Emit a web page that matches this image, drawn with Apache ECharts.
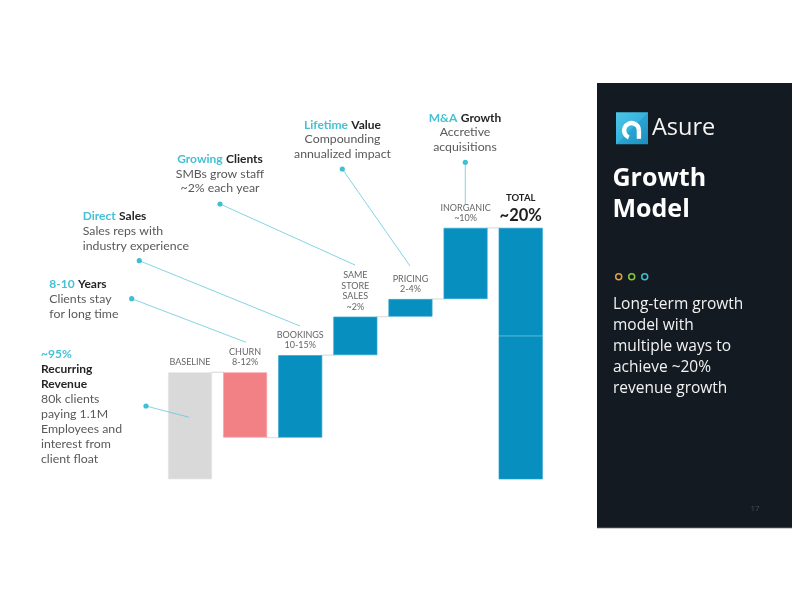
<!DOCTYPE html>
<html>
<head>
<meta charset="utf-8">
<script src="https://cdn.jsdelivr.net/npm/echarts@6/dist/echarts.min.js"></script>
<style>html,body{margin:0;padding:0;background:#fff;}#c{width:792px;height:612px;}</style>
</head>
<body>
<div id="c"></div>
<script>
// ---- data ----
const categories = ['BASELINE', 'CHURN', 'BOOKINGS', 'SAME STORE SALES', 'PRICING', 'INORGANIC', 'TOTAL'];
const barLabels = ['BASELINE', 'CHURN\n8-12%', 'BOOKINGS\n10-15%', 'SAME\nSTORE\nSALES\n~2%', 'PRICING\n2-4%', 'INORGANIC\n~10%'];
const changes = [100, -61, 77, 36, 16.5, 66.5];   // baseline + step changes
const totalSegments = [134, 101];                  // total bar (two stacked parts)
const totalLabelTop = 'TOTAL';
const totalLabelValue = '~20%';

// ---- build waterfall ----
const baseData = [], valueData = [], topData = [], connectors = [];
let cum = 0;
changes.forEach((c, i) => {
  const next = cum + c;
  baseData.push(Math.min(cum, next));
  valueData.push(Math.abs(c));
  topData.push('-');
  cum = next;
  connectors.push([i, cum]);
});
baseData.push(0);
valueData.push(totalSegments[0]);
topData.push(totalSegments[1]);

const BLUE = '#078fbf', PINK = '#f28185', GREY = '#d9d9d9';
const colorFor = (i) => i === 0 ? GREY : (changes[i] < 0 ? PINK : BLUE);
const borderFor = (i) => i === 0 ? '#e4e4e4' : (changes[i] < 0 ? '#f6a5a7' : '#35a6cf');

const chart = echarts.init(document.getElementById('c'), null, {renderer: 'canvas'});

const CY = '#45c0d4', HEAD = '#262626', BODY = '#595959';
const F = 'Lato, "Open Sans", sans-serif';
function rich(lh) {
  return {
    c: {fontFamily: F, fontSize: 12, fontWeight: 'bold', fill: CY, lineHeight: lh},
    h: {fontFamily: F, fontSize: 12, fontWeight: 'bold', fill: HEAD, lineHeight: lh},
    b: {fontFamily: F, fontSize: 12.3, fill: BODY, lineHeight: lh}
  };
}
function block(x, yc, lh, align, text) {
  return {type: 'text', z: 10, style: {x: x, y: yc - lh / 2, text: text, align: align, verticalAlign: 'top', rich: rich(lh)}};
}
const leaders = [
  [[220, 204], [355, 265]],
  [[139.3, 260.7], [300, 326]],
  [[131.7, 298.7], [246, 342.3]],
  [[146, 406], [189.3, 417.3]],
  [[342.3, 169], [410, 266]],
  [[465.3, 162.3], [465.3, 204.3]]
];
const graphics = [];
leaders.forEach(l => {
  graphics.push({type: 'line', z: 5, shape: {x1: l[0][0], y1: l[0][1], x2: l[1][0], y2: l[1][1]}, style: {stroke: '#62cadb', lineWidth: 0.8}});
  graphics.push({type: 'circle', z: 6, shape: {cx: l[0][0], cy: l[0][1], r: 2.6}, style: {fill: '#3fbfd3'}});
});
graphics.push(
  block(220, 159, 14.7, 'center', '{c|Growing} {h|Clients}\n{b|SMBs grow staff}\n{b|~2% each year}'),
  block(82.7, 215.7, 15, 'left', '{c|Direct} {h|Sales}\n{b|Sales reps with}\n{b|industry experience}'),
  block(49.3, 284, 14.8, 'left', '{c|8-10} {h|Years}\n{b|Clients stay}\n{b|for long time}'),
  block(41, 353.7, 15.05, 'left', '{c|~95%}\n{h|Recurring}\n{h|Revenue}\n{b|80k clients}\n{b|paying 1.1M}\n{b|Employees and}\n{b|interest from}\n{b|client float}'),
  block(342.5, 124.7, 14.5, 'center', '{c|Lifetime} {h|Value}\n{b|Compounding}\n{b|annualized impact}'),
  block(465, 118, 14.5, 'center', '{c|M&A} {h|Growth}\n{b|Accretive}\n{b|acquisitions}')
);
// right panel
graphics.push(
  {type: 'rect', z: 1, shape: {x: 597, y: 83, width: 195, height: 445}, style: {fill: '#131a21'}},
  {type: 'rect', z: 2, shape: {x: 616, y: 112.3, width: 32, height: 32}, style: {fill: new echarts.graphic.LinearGradient(0, 0, 1, 1, [{offset: 0, color: '#4cc7e6'}, {offset: 0.5, color: '#36b3dc'}, {offset: 0.5, color: '#2aa5d2'}, {offset: 1, color: '#1b8fc0'}])}},
  {type: 'arc', z: 3, shape: {cx: 631.5, cy: 130.5, r: 7.4, startAngle: Math.PI * 0.62, endAngle: Math.PI * 2, clockwise: true}, style: {stroke: '#ffffff', lineWidth: 4.4, fill: null}},
  {type: 'line', z: 3, shape: {x1: 638.9, y1: 130.3, x2: 638.9, y2: 138.8}, style: {stroke: '#ffffff', lineWidth: 4.4}},
  {type: 'text', z: 3, style: {x: 652, y: 128.5, text: 'Asure', fill: '#f4f4f4', font: '23.5px "Open Sans", sans-serif', verticalAlign: 'middle'}},
  {type: 'text', z: 3, style: {x: 612.5, y: 163.5, text: 'Growth\nModel', fill: '#ffffff', font: 'bold 25px "Open Sans", sans-serif', lineHeight: 31, verticalAlign: 'top'}},
  {type: 'circle', z: 3, shape: {cx: 618.7, cy: 276.7, r: 3}, style: {fill: null, stroke: '#e5a23e', lineWidth: 1.5}},
  {type: 'circle', z: 3, shape: {cx: 631.7, cy: 276.7, r: 3}, style: {fill: null, stroke: '#8cc63f', lineWidth: 1.5}},
  {type: 'circle', z: 3, shape: {cx: 644.7, cy: 276.7, r: 3}, style: {fill: null, stroke: '#3dc1d3', lineWidth: 1.5}},
  {type: 'text', z: 3, style: {x: 613, y: 294.6, text: 'Long-term growth\nmodel with\nmultiple ways to\nachieve ~20%\nrevenue growth', fill: '#f2f2f2', font: '15.5px "Open Sans", sans-serif', lineHeight: 20.8, verticalAlign: 'top'}},
  {type: 'text', z: 3, style: {x: 755, y: 509, text: '17', fill: '#46505a', font: '8px "Open Sans", sans-serif', align: 'center', verticalAlign: 'middle'}},
  {type: 'rect', z: 2, shape: {x: 597, y: 527, width: 195, height: 1.2}, style: {fill: '#3a4047'}}
);

const labelStyle = {show: true, position: 'top', distance: 4.5, color: '#666', fontFamily: F, fontSize: 9, lineHeight: 10.5, align: 'center'};

chart.setOption({
  animation: false,
  backgroundColor: '#ffffff',
  grid: {left: 162.44, width: 385.8, top: 158.3, height: 321},
  xAxis: {type: 'category', data: categories, show: false},
  yAxis: {type: 'value', min: 0, max: 300, show: false},
  series: [
    {type: 'bar', stack: 'w', barWidth: 44, silent: true, itemStyle: {color: 'transparent'}, data: baseData, z: 2},
    {type: 'bar', stack: 'w', barWidth: 44, z: 3,
      data: valueData.map((v, i) => ({
        value: v,
        itemStyle: {color: i < changes.length ? colorFor(i) : BLUE, borderColor: i < changes.length ? borderFor(i) : '#1c99c6', borderWidth: 0.7},
        label: i < changes.length ? Object.assign({}, labelStyle, {formatter: barLabels[i]}) : {show: false}
      }))
    },
    {type: 'bar', stack: 'w', barWidth: 44, z: 3,
      itemStyle: {color: BLUE, borderColor: '#1c99c6', borderWidth: 0.7},
      label: {show: true, position: 'top', distance: 3, align: 'center',
        formatter: '{a|' + totalLabelTop + '}\n{b|' + totalLabelValue + '}',
        rich: {
          a: {fontFamily: F, fontSize: 9.5, fontWeight: 'bold', color: '#1f1f1f', lineHeight: 15, align: 'center'},
          b: {fontFamily: F, fontSize: 16.5, fontWeight: 'bold', color: '#1f1f1f', lineHeight: 19, align: 'center'}
        }},
      data: topData
    },
    {type: 'custom', z: 1, silent: true,
      renderItem: function (params, api) {
        const p = api.coord([api.value(0), api.value(1)]);
        const w = api.size([1, 0])[0];
        return {type: 'line', shape: {x1: p[0] + w * 0.38, y1: p[1], x2: p[0] + w * 0.62, y2: p[1]}, style: {stroke: '#e2e2e2', lineWidth: 1.4}};
      },
      data: connectors
    }
  ],
  graphic: {elements: graphics}
});
</script>
</body>
</html>
